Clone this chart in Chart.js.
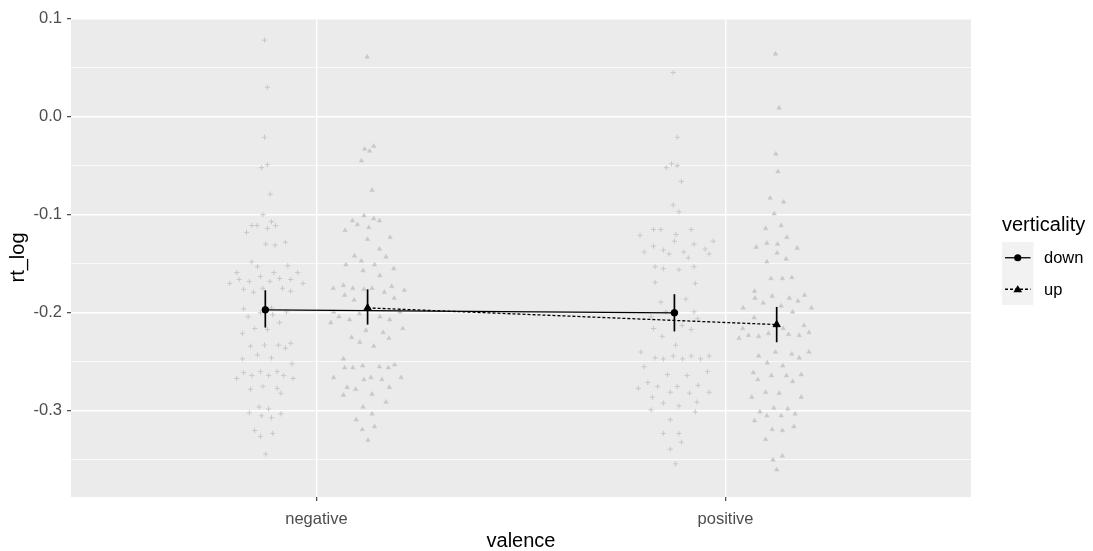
<!DOCTYPE html>
<html>
<head>
<meta charset="utf-8">
<script src="https://cdn.jsdelivr.net/npm/chart.js@4.4.0/dist/chart.umd.min.js"></script>
<style>
  html, body { margin: 0; padding: 0; background: #ffffff; }
  #wrap { width: 1093px; height: 551px; position: relative; }
</style>
</head>
<body>
<div id="wrap"><canvas id="rtplot"></canvas></div>
<script>
var valence = ["negative", "positive"];
var verticality = ["down", "up"];
var yMajor = [-0.3, -0.2, -0.1, 0.0, 0.1];
var yMinor = [-0.35, -0.25, -0.15, -0.05, 0.05];

// raw rt_log values (jittered)
var negDownRt = [0.078, 0.030, -0.021, -0.052, -0.049, -0.079, -0.100, -0.107, -0.111, -0.111,
  -0.111, -0.118, -0.114, -0.130, -0.131, -0.128, -0.148, -0.153, -0.152, -0.159,
  -0.159, -0.159, -0.166, -0.168, -0.163, -0.168, -0.165, -0.166, -0.170, -0.170,
  -0.176, -0.179, -0.175, -0.175, -0.178, -0.196, -0.195, -0.204, -0.202, -0.199,
  -0.200, -0.210, -0.216, -0.217, -0.221, -0.234, -0.233, -0.233, -0.236, -0.231,
  -0.243, -0.246, -0.247, -0.252, -0.261, -0.267, -0.264, -0.260, -0.264, -0.260,
  -0.264, -0.267, -0.278, -0.275, -0.277, -0.282, -0.296, -0.298, -0.302, -0.305,
  -0.307, -0.303, -0.320, -0.326, -0.323, -0.344];
var negDownJit = [-0.002, 0.005, -0.002, -0.009, 0.005, 0.012, -0.006, 0.015, -0.033, -0.020,
  0.025, -0.046, 0.005, 0.001, 0.024, 0.049, -0.033, -0.019, 0.055, -0.070,
  0.021, 0.079, -0.064, -0.039, -0.012, 0.011, 0.035, 0.062, -0.087, 0.092,
  -0.053, -0.029, -0.006, 0.042, 0.062, -0.053, 0.015, -0.042, 0.018, 0.052,
  -0.012, 0.035, -0.026, 0.005, -0.056, -0.036, -0.002, 0.032, 0.049, 0.062,
  -0.019, 0.015, -0.056, 0.065, -0.053, -0.070, -0.033, -0.012, 0.008, 0.029,
  0.045, 0.068, -0.036, -0.006, 0.029, 0.038, -0.015, 0.008, -0.039, -0.009,
  0.015, 0.038, -0.026, -0.012, 0.018, 0.001];

var negUpRt = [0.061, -0.033, -0.030, -0.035, -0.045, -0.075, -0.101, -0.106, -0.110, -0.104,
  -0.106, -0.116, -0.113, -0.125, -0.123, -0.135, -0.142, -0.147, -0.143, -0.151,
  -0.151, -0.157, -0.155, -0.162, -0.175, -0.172, -0.175, -0.176, -0.175, -0.179,
  -0.173, -0.177, -0.182, -0.187, -0.185, -0.199, -0.204, -0.207, -0.201, -0.204,
  -0.207, -0.199, -0.210, -0.216, -0.218, -0.220, -0.226, -0.225, -0.230, -0.234,
  -0.247, -0.256, -0.256, -0.254, -0.255, -0.256, -0.253, -0.266, -0.268, -0.266,
  -0.268, -0.266, -0.276, -0.278, -0.276, -0.284, -0.283, -0.291, -0.296, -0.303,
  -0.309, -0.316, -0.319, -0.330];
var negUpJit = [-0.001, -0.007, 0.015, 0.005, -0.015, 0.011, -0.009, -0.037, -0.025, 0.015,
  0.029, -0.055, 0.003, 0.000, 0.055, 0.029, -0.032, -0.015, 0.045, -0.053,
  0.017, -0.011, 0.064, 0.030, -0.084, -0.059, -0.036, -0.009, 0.011, 0.041,
  0.059, 0.090, -0.056, -0.033, 0.065, -0.083, -0.070, -0.044, -0.020, 0.030,
  0.054, 0.079, -0.090, 0.086, -0.004, 0.038, 0.052, -0.039, -0.019, 0.015,
  -0.059, -0.056, -0.036, -0.012, 0.029, 0.051, 0.066, -0.083, -0.009, 0.008,
  0.035, 0.082, -0.050, -0.029, 0.053, -0.059, 0.011, 0.045, -0.011, 0.011,
  -0.028, 0.017, -0.013, 0.001];

var posDownRt = [0.045, -0.021, -0.048, -0.052, -0.050, -0.066, -0.090, -0.097, -0.121, -0.115,
  -0.115, -0.115, -0.120, -0.127, -0.130, -0.127, -0.138, -0.132, -0.136, -0.140,
  -0.138, -0.144, -0.135, -0.140, -0.153, -0.155, -0.156, -0.153, -0.169, -0.170,
  -0.189, -0.186, -0.199, -0.199, -0.204, -0.206, -0.213, -0.216, -0.217, -0.224,
  -0.233, -0.240, -0.246, -0.247, -0.244, -0.247, -0.244, -0.247, -0.244, -0.255,
  -0.263, -0.264, -0.260, -0.271, -0.277, -0.275, -0.281, -0.275, -0.274, -0.286,
  -0.282, -0.281, -0.292, -0.295, -0.291, -0.299, -0.301, -0.309, -0.323, -0.323,
  -0.332, -0.339, -0.354];
var posDownJit = [-0.003, 0.007, -0.007, -0.020, 0.007, 0.017, -0.003, 0.011, -0.084, -0.051,
  -0.033, 0.041, 0.004, 0.000, 0.048, 0.095, -0.074, -0.051, -0.027, -0.013,
  0.023, 0.034, 0.075, 0.085, -0.047, -0.027, 0.011, 0.048, -0.047, 0.051,
  -0.033, 0.028, -0.021, 0.048, -0.057, 0.057, 0.019, -0.051, 0.041, -0.030,
  0.003, -0.082, -0.047, -0.027, -0.003, 0.020, 0.041, 0.064, 0.085, -0.074,
  -0.017, 0.031, 0.081, -0.065, -0.088, -0.041, -0.010, 0.007, 0.058, -0.054,
  0.037, 0.085, -0.027, 0.011, 0.055, -0.057, 0.051, -0.010, -0.027, 0.011,
  0.017, -0.010, 0.003];

var posUpRt = [0.064, 0.009, -0.038, -0.056, -0.083, -0.087, -0.099, -0.114, -0.111, -0.123,
  -0.133, -0.129, -0.130, -0.134, -0.139, -0.145, -0.148, -0.165, -0.165, -0.164,
  -0.178, -0.185, -0.190, -0.183, -0.185, -0.188, -0.182, -0.195, -0.193, -0.199,
  -0.195, -0.205, -0.216, -0.226, -0.223, -0.224, -0.221, -0.216, -0.222, -0.223,
  -0.213, -0.220, -0.244, -0.240, -0.242, -0.246, -0.240, -0.251, -0.254, -0.261,
  -0.264, -0.264, -0.263, -0.268, -0.270, -0.286, -0.281, -0.282, -0.286, -0.297,
  -0.298, -0.301, -0.305, -0.305, -0.303, -0.310, -0.319, -0.320, -0.316, -0.329,
  -0.350, -0.346, -0.360];
var posUpJit = [-0.003, 0.006, -0.002, 0.003, -0.016, 0.017, -0.006, -0.027, 0.011, 0.025,
  -0.050, -0.024, 0.002, 0.050, 0.001, 0.023, -0.024, -0.014, 0.014, 0.037,
  -0.054, -0.053, -0.033, -0.011, 0.031, 0.052, 0.068, -0.082, 0.011, 0.039,
  0.085, -0.055, -0.083, -0.092, -0.069, -0.044, -0.020, 0.016, 0.029, 0.055,
  0.067, 0.079, -0.044, -0.003, 0.037, 0.055, 0.079, -0.023, 0.015, -0.057,
  -0.013, 0.024, 0.060, -0.046, 0.039, -0.061, -0.027, 0.006, 0.060, -0.007,
  0.027, -0.041, -0.024, 0.011, 0.045, -0.054, -0.011, 0.014, 0.042, -0.027,
  -0.009, 0.014, 0.000];

// means and error bar ends per valence (negative, positive)
var meanDown = [-0.197, -0.200];
var meanUp = [-0.195, -0.212];
var loDown = [-0.215, -0.219];
var hiDown = [-0.177, -0.181];
var loUp = [-0.212, -0.230];
var hiUp = [-0.176, -0.194];

var dodge = { down: -0.125, up: 0.125 };
var FONT = '"Liberation Sans", Arial, sans-serif';
Chart.defaults.font.family = FONT;

function cloud(rt, jit, xc) {
  return rt.map(function (v, i) { return { x: xc + jit[i], y: v }; });
}
function meanPts(m, d) {
  return m.map(function (v, i) { return { x: i + 1 + d, y: v }; });
}
function isMajor(v) {
  return Math.abs(v * 10 - Math.round(v * 10)) < 1e-6;
}

var rawGrey = "#c8c8c8";
var datasets = [
  { data: cloud(negDownRt, negDownJit, 1 + dodge.down), pointStyle: "cross", pointRadius: 2.6,
    borderColor: rawGrey, borderWidth: 1, order: 10 },
  { data: cloud(posDownRt, posDownJit, 2 + dodge.down), pointStyle: "cross", pointRadius: 2.6,
    borderColor: rawGrey, borderWidth: 1, order: 10 },
  { data: cloud(negUpRt, negUpJit, 1 + dodge.up), pointStyle: "triangle", pointRadius: 2.6,
    backgroundColor: rawGrey, borderColor: rawGrey, borderWidth: 0.5, order: 10 },
  { data: cloud(posUpRt, posUpJit, 2 + dodge.up), pointStyle: "triangle", pointRadius: 2.6,
    backgroundColor: rawGrey, borderColor: rawGrey, borderWidth: 0.5, order: 10 },
  // lines between means
  { type: "line", data: meanPts(meanDown, dodge.down), borderColor: "#000", borderWidth: 1.3,
    pointRadius: 0, fill: false, order: 5 },
  { type: "line", data: meanPts(meanUp, dodge.up), borderColor: "#000", borderWidth: 1.3,
    borderDash: [3, 2], pointRadius: 0, fill: false, order: 5 }
];
// error bars
[[loDown, hiDown, dodge.down], [loUp, hiUp, dodge.up]].forEach(function (g) {
  for (var i = 0; i < valence.length; i++) {
    datasets.push({ type: "line", data: [{ x: i + 1 + g[2], y: g[0][i] }, { x: i + 1 + g[2], y: g[1][i] }],
      borderColor: "#000", borderWidth: 1.7, pointRadius: 0, fill: false, order: 3 });
  }
});
datasets.push({ data: meanPts(meanDown, dodge.down), pointStyle: "circle", pointRadius: 3.3,
  backgroundColor: "#000", borderColor: "#000", borderWidth: 1, order: 1 });
datasets.push({ data: meanPts(meanUp, dodge.up), pointStyle: "triangle", pointRadius: 4.2,
  backgroundColor: "#000", borderColor: "#000", borderWidth: 1, order: 1 });

var panelBg = {
  id: "panelBg",
  beforeDraw: function (chart) {
    var a = chart.chartArea, c = chart.ctx;
    c.save();
    c.fillStyle = "#ebebeb";
    c.fillRect(a.left, a.top, a.right - a.left, a.bottom - a.top);
    c.restore();
  }
};

var ggLegend = {
  id: "ggLegend",
  afterDraw: function (chart) {
    var c = chart.ctx;
    var x0 = 1002, top = 242, k = 31.5;
    c.save();
    c.fillStyle = "#000";
    c.textBaseline = "middle";
    c.textAlign = "left";
    c.font = "20px " + FONT;
    c.fillText("verticality", x0, 225);
    c.fillStyle = "#f2f2f2";
    c.fillRect(x0, top, k, k * 2);
    verticality.forEach(function (name, i) {
      var cy = top + k * i + k / 2;
      c.strokeStyle = "#000";
      c.lineWidth = 1.3;
      c.setLineDash(i === 0 ? [] : [3, 2]);
      c.beginPath();
      c.moveTo(x0 + 3, cy);
      c.lineTo(x0 + k - 3, cy);
      c.stroke();
      c.setLineDash([]);
      c.fillStyle = "#000";
      c.beginPath();
      if (i === 0) {
        c.arc(x0 + k / 2, cy, 3.6, 0, Math.PI * 2);
      } else {
        c.moveTo(x0 + k / 2, cy - 4);
        c.lineTo(x0 + k / 2 + 4.4, cy + 3);
        c.lineTo(x0 + k / 2 - 4.4, cy + 3);
        c.closePath();
      }
      c.fill();
      c.font = "16.5px " + FONT;
      c.fillText(name, x0 + 42, cy + 1);
    });
    c.restore();
  }
};

var ctx = document.getElementById("rtplot").getContext("2d");
var chart = new Chart(ctx, {
  type: "scatter",
  data: { datasets: datasets },
  plugins: [panelBg, ggLegend],
  options: {
    animation: false,
    responsive: true,
    maintainAspectRatio: false,
    layout: { padding: { left: 0, right: 122, top: 18, bottom: 0 } },
    plugins: { legend: { display: false }, tooltip: { enabled: false } },
    scales: {
      x: {
        type: "linear",
        min: 0.4,
        max: 2.6,
        afterBuildTicks: function (s) {
          s.ticks = valence.map(function (v, i) { return { value: i + 1 }; });
        },
        afterFit: function (s) { s.height = 54; },
        border: { display: false },
        grid: { color: "#ffffff", lineWidth: 1.4, tickLength: 4, tickColor: "#333333", tickWidth: 1.1 },
        ticks: {
          autoSkip: false, maxRotation: 0, padding: 9, color: "#4d4d4d",
          font: { size: 16.5 },
          callback: function (v) { return valence[Math.round(v) - 1]; }
        },
        title: { display: true, text: "valence", color: "#000",
          font: { size: 20, lineHeight: 1 }, padding: { top: 0, bottom: 0 } }
      },
      y: {
        type: "linear",
        min: -0.3878,
        max: 0.1006,
        afterBuildTicks: function (s) {
          s.ticks = yMajor.concat(yMinor).sort(function (a, b) { return a - b; })
            .map(function (v) { return { value: v }; });
        },
        afterFit: function (s) { s.width = 71; },
        border: { display: false },
        grid: {
          color: "#ffffff",
          lineWidth: function (c) { return isMajor(c.tick.value) ? 1.4 : 0.7; },
          tickLength: 4,
          tickWidth: 1.1,
          tickColor: function (c) { return isMajor(c.tick.value) ? "#333333" : "rgba(0,0,0,0)"; }
        },
        ticks: {
          autoSkip: false, padding: 5, color: "#4d4d4d",
          font: { size: 16.5 },
          callback: function (v) { return isMajor(v) ? v.toFixed(1) : ""; }
        },
        title: { display: true, text: "rt_log", color: "#000",
          font: { size: 20, lineHeight: 1 }, padding: { top: 8, bottom: 0 } }
      }
    }
  }
});
</script>
</body>
</html>
